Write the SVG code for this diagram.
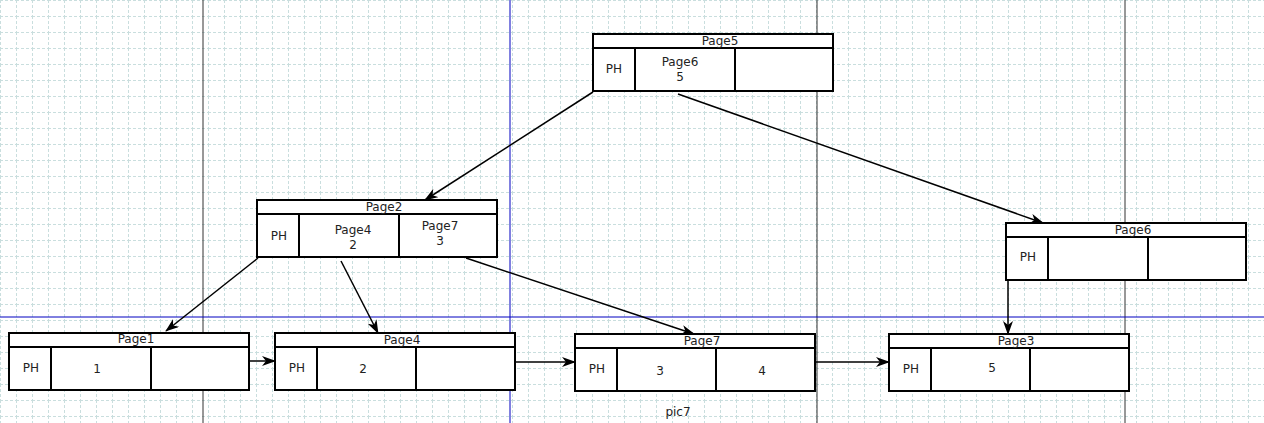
<svg xmlns="http://www.w3.org/2000/svg" width="1264" height="423" viewBox="0 0 1264 423">
<defs>
<pattern id="g" width="16" height="16" patternUnits="userSpaceOnUse"><path d="M0 0.5H16M0.5 0V16" stroke="#c9dede" stroke-width="1" stroke-dasharray="3 2" fill="none"/></pattern>
<marker id="a" markerWidth="14" markerHeight="10" refX="13" refY="5" orient="auto" markerUnits="userSpaceOnUse"><path d="M0 0L14 5L0 10L4 5Z" fill="#000"/></marker>
</defs>
<style>
.b{fill:#fff;stroke:#000;stroke-width:2}
.l{stroke:#000;stroke-width:2}
text{font-family:"DejaVu Sans",sans-serif;font-size:12px;fill:#222;text-anchor:middle}
.c line{stroke:#000;stroke-width:1.5;marker-end:url(#a)}
</style>
<rect width="1264" height="423" fill="#fff"/>
<rect width="1264" height="423" fill="url(#g)"/>
<line x1="203" y1="0" x2="203" y2="423" stroke="#333"/>
<line x1="510" y1="0" x2="510" y2="423" stroke="#0000c0"/>
<line x1="817" y1="0" x2="817" y2="423" stroke="#333"/>
<line x1="1125" y1="0" x2="1125" y2="423" stroke="#333"/>
<line x1="0" y1="317" x2="1264" y2="317" stroke="#0000c0"/>
<g id="page5"><rect class="b" x="593" y="34" width="240" height="57"/><line class="l" x1="593" y1="48" x2="833" y2="48"/><line class="l" x1="635" y1="48" x2="635" y2="91"/><line class="l" x1="735" y1="48" x2="735" y2="91"/><text x="720" y="45">Page5</text><text x="614" y="73">PH</text><text x="680" y="66">Page6</text><text x="680" y="81">5</text></g>
<g id="page2"><rect class="b" x="257" y="200" width="240" height="57"/><line class="l" x1="257" y1="214" x2="497" y2="214"/><line class="l" x1="299" y1="214" x2="299" y2="257"/><line class="l" x1="399" y1="214" x2="399" y2="257"/><text x="384" y="211">Page2</text><text x="279" y="240">PH</text><text x="353" y="234">Page4</text><text x="353" y="249">2</text><text x="440" y="230">Page7</text><text x="440" y="245">3</text></g>
<g id="page6"><rect class="b" x="1006" y="223" width="240" height="57"/><line class="l" x1="1006" y1="237" x2="1246" y2="237"/><line class="l" x1="1048" y1="237" x2="1048" y2="280"/><line class="l" x1="1148" y1="237" x2="1148" y2="280"/><text x="1133" y="234">Page6</text><text x="1028" y="261">PH</text></g>
<g id="page1"><rect class="b" x="9" y="333" width="240" height="57"/><line class="l" x1="9" y1="347" x2="249" y2="347"/><line class="l" x1="51" y1="347" x2="51" y2="390"/><line class="l" x1="151" y1="347" x2="151" y2="390"/><text x="136" y="343">Page1</text><text x="31" y="372">PH</text><text x="97" y="373">1</text></g>
<g id="page4"><rect class="b" x="275" y="333" width="240" height="57"/><line class="l" x1="275" y1="347" x2="515" y2="347"/><line class="l" x1="317" y1="347" x2="317" y2="390"/><line class="l" x1="416" y1="347" x2="416" y2="390"/><text x="402" y="344">Page4</text><text x="297" y="372">PH</text><text x="363" y="373">2</text></g>
<g id="page7"><rect class="b" x="575" y="334" width="240" height="57"/><line class="l" x1="575" y1="348" x2="815" y2="348"/><line class="l" x1="617" y1="348" x2="617" y2="391"/><line class="l" x1="716" y1="348" x2="716" y2="391"/><text x="702" y="345">Page7</text><text x="597" y="373">PH</text><text x="660" y="375">3</text><text x="762" y="375">4</text></g>
<g id="page3"><rect class="b" x="889" y="334" width="240" height="57"/><line class="l" x1="889" y1="348" x2="1129" y2="348"/><line class="l" x1="931" y1="348" x2="931" y2="391"/><line class="l" x1="1030" y1="348" x2="1030" y2="391"/><text x="1016" y="345">Page3</text><text x="911" y="373">PH</text><text x="992" y="372">5</text></g>
<g class="c" id="connectors">
<line x1="593" y1="92" x2="425" y2="200"/>
<line x1="678" y1="94" x2="1043" y2="223"/>
<line x1="258" y1="258" x2="166" y2="331"/>
<line x1="341" y1="261" x2="378" y2="333"/>
<line x1="466" y1="258" x2="694" y2="334"/>
<line x1="249" y1="361" x2="275" y2="361"/>
<line x1="515" y1="362" x2="575" y2="362"/>
<line x1="815" y1="362" x2="889" y2="362"/>
<line x1="1008" y1="280" x2="1008" y2="334"/>
</g>
<text x="678" y="416">pic7</text>
</svg>
